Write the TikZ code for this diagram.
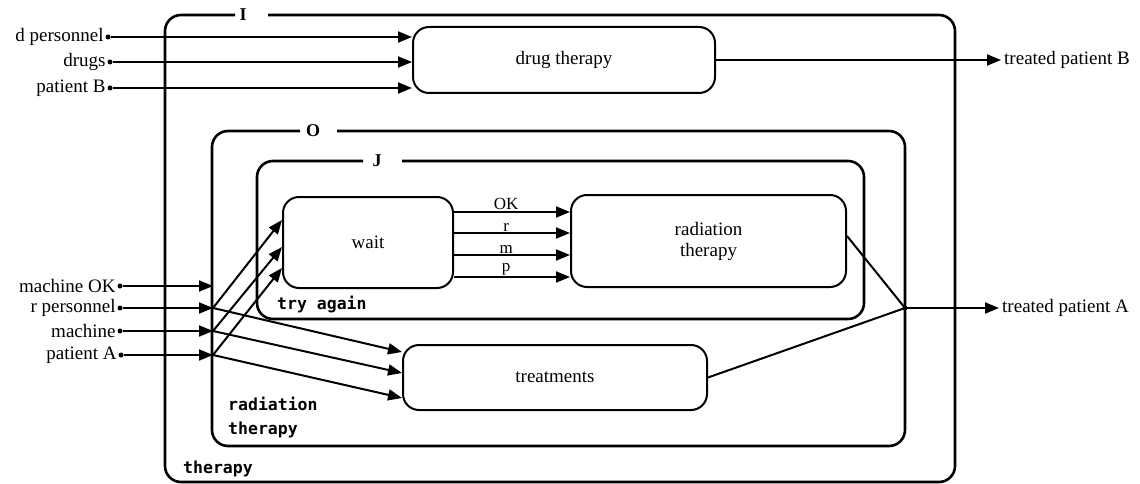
\documentclass[tikz,border=0pt]{standalone}
\usepackage{fontspec}
\setmainfont{Liberation Serif}
\newfontfamily\tagfont{DejaVu Sans Mono}
\usetikzlibrary{arrows.meta,calc}

\begin{document}
\begin{tikzpicture}[x=1pt,y=-1pt,
  proc/.style={draw, line width=2pt, rounded corners=16pt, inner sep=0pt,
    font=\fontsize{19}{21}\selectfont, align=center},
  frame/.style={line width=2.6pt, rounded corners=16pt},
  flow/.style={line width=2pt, -{Triangle[length=14pt,width=11pt]}},
  wire/.style={line width=2pt},
  inlabel/.style={anchor=east, font=\fontsize{19}{21}\selectfont, inner sep=1.5pt},
  outlabel/.style={anchor=west, font=\fontsize{19}{21}\selectfont, inner sep=3pt},
  flowlabel/.style={font=\fontsize{17}{18}\selectfont, inner sep=1pt},
  dot/.style={circle, fill, inner sep=0pt, minimum size=5pt},
  tag/.style={font=\tagfont\bfseries\fontsize{16.5}{24}\selectfont, anchor=west,
    inner sep=0pt, align=left},
  boxid/.style={font=\bfseries\fontsize{18}{18}\selectfont, inner sep=0pt},
]
\useasboundingbox (0,0) rectangle (1140,484);

% frame identifiers sitting in the gaps of the top edges
\node[boxid] (idI) at (243,15) {I};
\node[boxid] (idO) at (313,131) {O};
\node[boxid] (idJ) at (377,161) {J};

% nested frames: therapy > radiation therapy > try again
\draw[frame] (268,15) -- (955,15) -- (955,482) -- (165,482) -- (165,15) -- (235,15);
\draw[frame] (337,131) -- (905,131) -- (905,446) -- (212,446) -- (212,131) -- (300,131);
\draw[frame] (402,161) -- (864,161) -- (864,319) -- (257,319) -- (257,161) -- (363,161);

\node[tag] (tTherapy) at (183,469) {therapy};
\node[tag] (tRad) at (228,418) {radiation\\therapy};
\node[tag] (tTry) at (277,304) {try again};

% processes
\node[proc, minimum width=302pt, minimum height=66pt] (drug) at (564,60) {drug therapy};
\node[proc, minimum width=170pt, minimum height=91pt] (wait) at (368,242.5) {wait};
\node[proc, minimum width=275pt, minimum height=92pt] (rad) at (708.5,241) {radiation\\therapy};
\node[proc, minimum width=304pt, minimum height=65pt] (treat) at (555,377.5) {treatments};

% inputs of drug therapy
\node[dot] (dp) at (108,37) {};
\node[dot] (dr) at (110,62) {};
\node[dot] (pb) at (110,88) {};
\node[inlabel] (ldp) at (dp.west) {d personnel};
\node[inlabel] (ldr) at (dr.west) {drugs};
\node[inlabel] (lpb) at (pb.west) {patient B};
\draw[flow] (dp) -- (dp -| drug.west);
\draw[flow] (dr) -- (dr -| drug.west);
\draw[flow] (pb) -- (pb -| drug.west);

% output of drug therapy
\node[outlabel] (tpb) at (1001,60) {treated patient B};
\draw[flow] (drug.east) -- (tpb.west);

% inputs of radiation therapy
\node[dot] (mok) at (120,286) {};
\node[dot] (rp) at (120,308) {};
\node[dot] (mc) at (120,331) {};
\node[dot] (pa) at (121,355) {};
\node[inlabel] (lmok) at (mok.west) {machine OK};
\node[inlabel] (lrp) at (rp.west) {r personnel};
\node[inlabel] (lmc) at (mc.west) {machine};
\node[inlabel] (lpa) at (pa.west) {patient A};

\coordinate (hmok) at (213,286);
\coordinate (hrp) at (213,308);
\coordinate (hmc) at (213,331);
\coordinate (hpa) at (213,355);
\draw[flow] (mok) -- (hmok);
\draw[flow] (rp) -- (hrp);
\draw[flow] (mc) -- (hmc);
\draw[flow] (pa) -- (hpa);

% into wait
\draw[flow] (hrp) -- ($(wait.west)+(0,-22.5)$);
\draw[flow] (hmc) -- ($(wait.west)+(0,4.5)$);
\draw[flow] (hpa) -- ($(wait.west)+(0,25.5)$);

% into treatments
\draw[flow] (hrp) -- ($(treat.west)+(0,-25.5)$);
\draw[flow] (hmc) -- ($(treat.west)+(0,-4.5)$);
\draw[flow] (hpa) -- ($(treat.west)+(0,20.5)$);

% wait -> radiation therapy
\draw[flow] ($(wait.east)+(0,-30.5)$) -- node[flowlabel, above, pos=0.45] {OK} ($(rad.west)+(0,-29)$);
\draw[flow] ($(wait.east)+(0,-9.5)$) -- node[flowlabel, above, pos=0.45] {r} ($(rad.west)+(0,-8)$);
\draw[flow] ($(wait.east)+(0,12.5)$) -- node[flowlabel, above, pos=0.45] {m} ($(rad.west)+(0,14)$);
\draw[flow] ($(wait.east)+(0,34.5)$) -- node[flowlabel, above, pos=0.45] {p} ($(rad.west)+(0,36)$);

% merge to treated patient A
\coordinate (jA) at (905,308);
\draw[wire] ($(rad.east)+(0,-5)$) -- (jA);
\draw[wire] (treat.east) -- (jA);
\fill (jA) circle (2.5pt);
\node[outlabel] (tpa) at (999,308) {treated patient A};
\draw[flow] (jA) -- (tpa.west);
\end{tikzpicture}
\end{document}
